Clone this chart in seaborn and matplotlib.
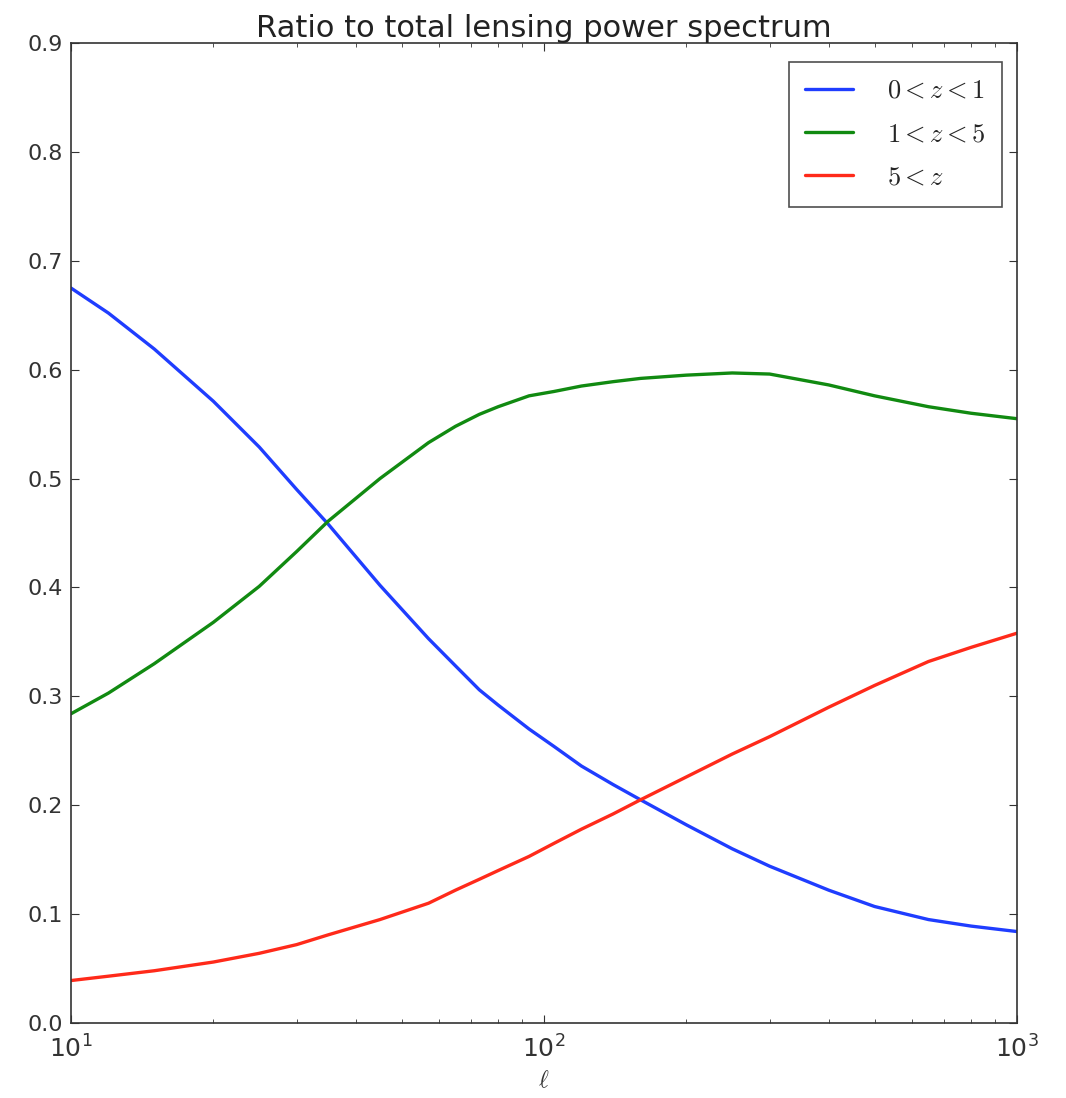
import numpy as np
import pandas as pd
import matplotlib
matplotlib.use("Agg")
import matplotlib.pyplot as plt
import seaborn as sns

# Multipole grid and fractional contributions of each redshift slice
ell = [10, 12, 15, 20, 25, 30, 35, 45, 57, 65, 73, 80, 93, 105, 120, 140, 160,
       200, 250, 300, 400, 500, 650, 800, 1000]
frac_low = [0.675, 0.652, 0.619, 0.571, 0.529, 0.490, 0.458, 0.402, 0.353,
            0.328, 0.306, 0.292, 0.270, 0.254, 0.236, 0.219, 0.205, 0.182,
            0.160, 0.144, 0.122, 0.107, 0.095, 0.089, 0.084]
frac_mid = [0.284, 0.303, 0.330, 0.368, 0.401, 0.433, 0.461, 0.500, 0.533,
            0.548, 0.559, 0.566, 0.576, 0.580, 0.585, 0.589, 0.592, 0.595,
            0.597, 0.596, 0.586, 0.576, 0.566, 0.560, 0.555]
frac_high = [0.039, 0.043, 0.048, 0.056, 0.064, 0.072, 0.081, 0.095, 0.110,
             0.122, 0.132, 0.140, 0.153, 0.165, 0.178, 0.192, 0.205, 0.226,
             0.247, 0.263, 0.290, 0.310, 0.332, 0.345, 0.358]
labels = [r"$0<z<1$", r"$1<z<5$", r"$5<z$"]
colors = ["#1f3dff", "#118a11", "#ff2a1a"]

df = pd.concat([
    pd.DataFrame({"ell": ell, "ratio": vals, "bin": lab})
    for vals, lab in zip([frac_low, frac_mid, frac_high], labels)
], ignore_index=True)

sns.set_style("ticks")
plt.rcParams.update({
    "font.family": ["DejaVu Sans"],
    "mathtext.fontset": "cm",
    "xtick.direction": "in",
    "ytick.direction": "in",
    "xtick.top": True,
    "ytick.right": True,
    "xtick.major.size": 6,
    "ytick.major.size": 6,
    "xtick.minor.size": 3,
    "xtick.minor.visible": True,
    "axes.edgecolor": "#333333",
    "axes.linewidth": 1.2,
    "xtick.color": "#333333",
    "ytick.color": "#333333",
})

fig = plt.figure(figsize=(10.66, 10.98), dpi=100)
ax = fig.add_axes([0.0666, 0.0683, 0.8874, 0.8925])

sns.lineplot(data=df, x="ell", y="ratio", hue="bin",
             palette=dict(zip(labels, colors)), linewidth=2.4, ax=ax,
             legend=False)

ax.set_xscale("log")
ax.set_xlim(10, 1000)
ax.set_ylim(0, 0.9)
ax.set_yticks(np.arange(0, 0.91, 0.1))
ax.set_yticklabels([f"{v:.1f}" for v in np.arange(0, 0.91, 0.1)])
ax.tick_params(axis="y", which="major", labelsize=16, labelcolor="#333333",
               pad=6)
ax.tick_params(axis="x", which="major", labelsize=18, labelcolor="#333333",
               pad=9)
ax.set_xlabel(r"$\ell$", fontsize=17, color="#333333", labelpad=4)
ax.set_ylabel("")
ax.set_title("Ratio to total lensing power spectrum", fontsize=22,
             color="#222222", pad=4)

handles = [plt.Line2D([], [], color=c, lw=2.4) for c in colors]
leg = ax.legend(handles, labels, loc="upper right",
                bbox_to_anchor=(0.984, 0.9806), borderaxespad=0.0,
                fontsize=19, fancybox=False, frameon=True,
                edgecolor="#222222", handlelength=1.8, handletextpad=1.3,
                labelspacing=0.66, borderpad=0.6)
leg.get_frame().set_linewidth(1.2)

fig.savefig("out.png", dpi=100)
